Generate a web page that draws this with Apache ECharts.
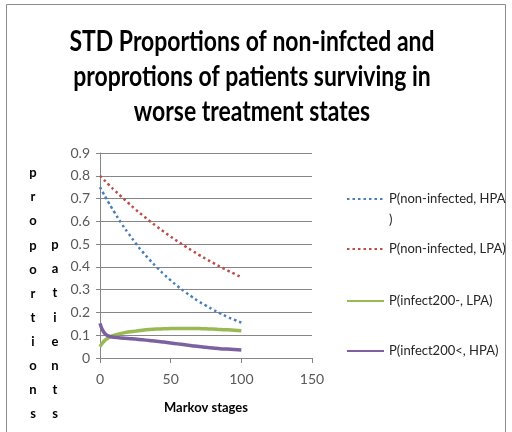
<!DOCTYPE html>
<html><head><meta charset="utf-8">
<script src="https://cdn.jsdelivr.net/npm/echarts@6/dist/echarts.min.js"></script>
<style>html,body{margin:0;padding:0;background:#fff}#c{width:512px;height:432px}</style>
</head><body><div id="c"></div>
<script>
const titleLines = ["STD Proportions of non-infcted and", "proprotions of patients surviving in", "worse treatment states"];
const xName = "Markov stages";
const yNameCol1 = "proportions";
const yNameCol2 = "patients";
const seriesNames = ["P(non-infected, HPA)", "P(non-infected, LPA)", "P(infect200-, LPA)", "P(infect200<, HPA)"];
const xTicks = [0, 50, 100, 150];
const yTicks = [0, 0.1, 0.2, 0.3, 0.4, 0.5, 0.6, 0.7, 0.8, 0.9];
const stages = [0, 2, 4, 6, 8, 10, 15, 20, 25, 30, 35, 40, 45, 50, 55, 60, 65, 70, 75, 80, 85, 90, 95, 100];
const nonInfHPA = [0.75, 0.727, 0.705, 0.683, 0.662, 0.642, 0.592, 0.548, 0.506, 0.467, 0.432, 0.399, 0.369, 0.341, 0.315, 0.291, 0.269, 0.248, 0.230, 0.212, 0.196, 0.181, 0.168, 0.155];
const nonInfLPA = [0.80, 0.787, 0.775, 0.762, 0.750, 0.738, 0.709, 0.681, 0.653, 0.627, 0.602, 0.578, 0.555, 0.533, 0.512, 0.491, 0.472, 0.453, 0.435, 0.418, 0.401, 0.385, 0.370, 0.355];
const inf200mLPA = [0.05, 0.068, 0.080, 0.089, 0.095, 0.100, 0.108, 0.114, 0.118, 0.122, 0.125, 0.127, 0.128, 0.129, 0.130, 0.130, 0.130, 0.129, 0.128, 0.127, 0.125, 0.124, 0.122, 0.120];
const inf200lHPA = [0.152, 0.120, 0.104, 0.097, 0.093, 0.091, 0.088, 0.086, 0.083, 0.080, 0.077, 0.074, 0.070, 0.066, 0.062, 0.058, 0.054, 0.050, 0.047, 0.044, 0.041, 0.039, 0.037, 0.035];

const colors = ["#4a7ebb", "#be4b48", "#98b954", "#7d60a0"];
const allData = [nonInfHPA, nonInfLPA, inf200mLPA, inf200lHPA];
const chart = echarts.init(document.getElementById('c'), null, {renderer: 'canvas'});
const FONT = 'Lato, "Open Sans", sans-serif';
const legendTops = [167.5, 239, 291, 341];
const series = allData.map((vals, k) => ({
  name: seriesNames[k],
  type: 'line',
  smooth: true,
  symbol: 'none',
  data: stages.map((s, i) => [s, vals[i]]),
  lineStyle: k < 2 ? {color: colors[k], width: 2.5, type: [2.5, 3]} : {color: colors[k], width: 3.5},
  itemStyle: {color: colors[k]}
}));
const legends = seriesNames.map((n, k) => ({
  data: [n], left: 346, top: legendTops[k], orient: 'vertical',
  itemWidth: 37, itemHeight: 14, itemGap: 0,
  itemStyle: {opacity: 0},
  formatter: k === 0 ? (name) => '\n' + name.replace(')', '\n)') : '{name}',
  textStyle: {fontFamily: FONT, fontSize: 13, color: '#262626', lineHeight: k === 0 ? 21 : 20},
  padding: 0, selectedMode: false
}));
chart.setOption({
  animation: false,
  backgroundColor: '#fff',
  grid: {left: 100, right: 200, top: 153, bottom: 74, containLabel: false},
  legend: legends,
  xAxis: {
    type: 'value', min: xTicks[0], max: xTicks[xTicks.length - 1], interval: 50,
    axisLine: {show: true, lineStyle: {color: '#868686'}},
    axisTick: {show: true, length: 5, lineStyle: {color: '#868686'}},
    splitLine: {show: false},
    axisLabel: {fontFamily: FONT, fontSize: 14, color: '#595959', margin: 14},
    name: xName, nameLocation: 'middle', nameGap: 43,
    nameTextStyle: {fontFamily: FONT, fontSize: 13, fontWeight: 'bold', color: '#000'}
  },
  yAxis: {
    type: 'value', min: yTicks[0], max: yTicks[yTicks.length - 1], interval: 0.1,
    axisLine: {show: true, lineStyle: {color: '#868686'}},
    axisTick: {show: true, length: 4, lineStyle: {color: '#868686'}},
    splitLine: {show: true, lineStyle: {color: '#868686'}},
    axisLabel: {fontFamily: FONT, fontSize: 14, color: '#595959', margin: 10}
  },
  graphic: [
    {type: 'rect', shape: {x: 6.5, y: 4.5, width: 499, height: 440}, style: {fill: 'none', stroke: '#8c8c8c', lineWidth: 1}, silent: true},
    ...titleLines.map((t, i) => ({
      type: 'text', x: 252, y: 42 + i * 35, scaleX: 0.82, originX: 0,
      style: {text: t, fontFamily: FONT, fontSize: 28, fontWeight: 'bold', fill: '#000', align: 'center', verticalAlign: 'middle'}
    })),
    {type: 'text', x: 33, y: 161, style: {text: yNameCol1.split('').join('\n'), fontFamily: FONT, fontSize: 13, fontWeight: 'bold', fill: '#000', lineHeight: 24.1, align: 'center', verticalAlign: 'top'}},
    {type: 'text', x: 55, y: 233, style: {text: yNameCol2.split('').join('\n'), fontFamily: FONT, fontSize: 13, fontWeight: 'bold', fill: '#000', lineHeight: 24.1, align: 'center', verticalAlign: 'top'}}
  ],
  series: series
});
</script></body></html>
